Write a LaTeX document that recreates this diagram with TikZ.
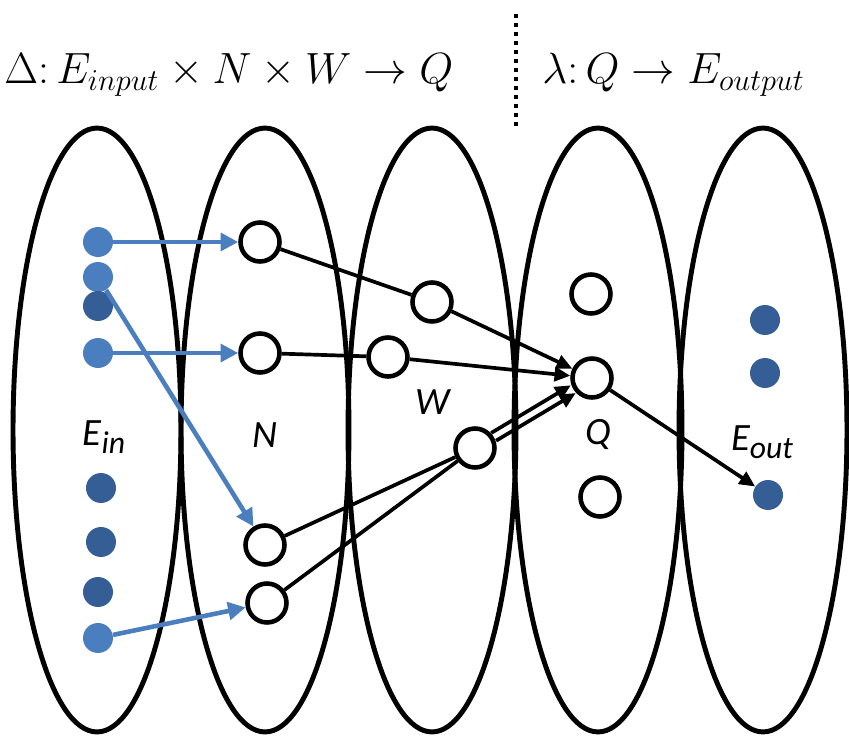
\documentclass[tikz,border=0pt]{standalone}
\usepackage{fontspec}
\usepackage{amsmath}
\newfontfamily\lblfont{Carlito}
\usetikzlibrary{arrows.meta,calc}
\definecolor{inblue}{RGB}{74,126,190}
\definecolor{deepblue}{RGB}{54,94,150}

\begin{document}
\begin{tikzpicture}[
  x=0.02cm, y=-0.02cm,
  setline/.style={line width=2.8pt},
  dot/.style={circle, fill=#1, minimum size=0.6cm, inner sep=0pt},
  ring/.style={circle, draw, line width=2.6pt, fill=white, minimum size=0.78cm, inner sep=0pt},
  lbl/.style={font=\lblfont\itshape\fontsize{22}{26}\selectfont},
  title/.style={font=\fontsize{27}{32}\selectfont, inner sep=0pt},
  bluearrow/.style={-{Triangle[length=10pt,width=10pt]}, line width=2.6pt, draw=inblue},
  arrow/.style={-{Triangle[length=9pt,width=8pt]}, line width=2.1pt},
  plain/.style={line width=2.1pt}
]
\useasboundingbox (0,0) rectangle (849,736);

% mapping formulas
\node[title, anchor=base west] (delta) at (4,84) {$\Delta{:}\,E_{input}\times N\times W\rightarrow Q$};
\node[title, anchor=base west] (lambda) at (542,84) {$\lambda{:}\,Q\rightarrow E_{output}$};
\coordinate (septop) at (516,14);
\coordinate (sepbot) at (516,126);
\draw[line width=2.3pt, dash pattern=on 2.3pt off 2.8pt] (septop) -- (sepbot);

% the five sets
\foreach \cx in {97,265,432,598,763}
  \draw[setline] (\cx,430) ellipse [x radius=1.68cm, y radius=6.04cm];

\node[lbl] (lin) at (104,437) {E\raisebox{-0.45ex}{\fontsize{18}{20}\selectfont in}};
\node[lbl] (lN) at (265,435) {N};
\node[lbl] (lW) at (433,402) {W};
\node[lbl] (lQ) at (598,435) {Q};
\node[lbl] (lout) at (762,442) {E\raisebox{-0.45ex}{\fontsize{18}{20}\selectfont out}};

% input events
\node[dot=inblue] (e1) at (98,242) {};
\node[dot=inblue] (e2) at (98,277) {};
\node[dot=deepblue] (e3) at (98,306) {};
\node[dot=inblue] (e4) at (98,353) {};
\node[dot=deepblue] (e5) at (101,488) {};
\node[dot=deepblue] (e6) at (101,542) {};
\node[dot=deepblue] (e7) at (98,592) {};
\node[dot=inblue] (e8) at (98,638) {};

% neurons, weights, states
\node[ring] (n1) at (260,242) {};
\node[ring] (n2) at (260,353) {};
\node[ring] (n3) at (265,545) {};
\node[ring] (n4) at (267,603) {};
\node[ring] (w1) at (432,302) {};
\node[ring] (w2) at (388,357) {};
\node[ring] (w3) at (475,448) {};
\node[ring] (q1) at (591,294) {};
\node[ring] (q2) at (592,378) {};
\node[ring] (q3) at (600,497) {};

% output events
\node[dot=deepblue] (o1) at (765,320) {};
\node[dot=deepblue] (o2) at (765,373) {};
\node[dot=deepblue] (o3) at (768,495) {};

\draw[bluearrow] (e1) -- (n1);
\draw[bluearrow] (e4) -- (n2);
\draw[bluearrow] (e2) -- (n3);
\draw[bluearrow] (e8) -- (n4);

\draw[plain] (n1) -- (w1);
\draw[plain] (n2) -- (w2);
\draw[plain] (n3) -- (w3);
\draw[plain] (n4) -- (w3);
\draw[arrow] (w1) -- (q2);
\draw[arrow] (w2) -- (q2);
\draw[arrow, transform canvas={xshift=-1.4pt, yshift=2.2pt}] (w3) -- (q2);
\draw[arrow, transform canvas={xshift=1.4pt, yshift=-2.2pt}] (w3) -- (q2);
\draw[arrow] (q2) -- (o3);

\end{tikzpicture}
\end{document}
